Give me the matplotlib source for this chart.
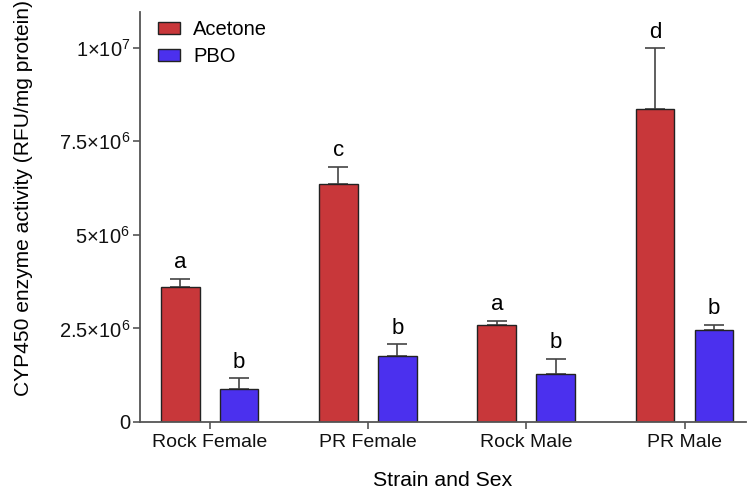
import numpy as np
import matplotlib
matplotlib.use("Agg")
import matplotlib.pyplot as plt
from matplotlib.ticker import FuncFormatter

plt.rcParams['font.family'] = ['Liberation Sans', 'DejaVu Sans']
plt.rcParams['mathtext.fontset'] = 'custom'
plt.rcParams['mathtext.rm'] = 'Liberation Sans'
plt.rcParams['mathtext.it'] = 'Liberation Sans'

categories = ["Rock Female", "PR Female", "Rock Male", "PR Male"]
acetone = [3.61e6, 6.35e6, 2.58e6, 8.36e6]
acetone_err = [0.21e6, 0.47e6, 0.13e6, 1.62e6]
pbo = [0.89e6, 1.76e6, 1.28e6, 2.45e6]
pbo_err = [0.28e6, 0.31e6, 0.40e6, 0.14e6]
acetone_letters = ["a", "c", "a", "d"]
pbo_letters = ["b", "b", "b", "b"]
yticks = [0, 2.5e6, 5e6, 7.5e6, 1e7]

red = "#C8373A"
blue = "#4B30EE"
axis_col = "#555555"

fig = plt.figure(figsize=(7.47, 4.92), dpi=100)
ax = fig.add_axes([0.1874, 0.1423, 0.8116, 0.8333])

x = np.arange(len(categories))
w = 0.245
off = 0.186

def draw(xpos, vals, errs, color, label, letters):
    ax.bar(xpos, vals, width=w, color=color, edgecolor="#222222", linewidth=1.0,
           label=label, zorder=2)
    ax.errorbar(xpos, vals, yerr=[np.zeros(len(vals)), errs], fmt="none",
                ecolor="#444444", elinewidth=1.2, capsize=7.2, capthick=1.2, zorder=1)
    for xi, v, e, t in zip(xpos, vals, errs, letters):
        ax.text(xi, v + e + 0.15e6, t, ha="center", va="bottom", fontsize=16)

draw(x - off, acetone, acetone_err, red, "Acetone", acetone_letters)
draw(x + off, pbo, pbo_err, blue, "PBO", pbo_letters)

ax.set_xlim(-0.44, 3.39)
ax.set_ylim(0, 1.095e7)
ax.set_yticks(yticks)

def fmt(v, pos):
    if v == 0:
        return "0"
    exp = int(np.floor(np.log10(v)))
    mant = v / 10 ** exp
    mant_s = ("%g" % mant)
    return r"$\mathregular{%s{\times}10^{%d}}$" % (mant_s, exp)

ax.yaxis.set_major_formatter(FuncFormatter(fmt))
ax.set_xticks(x)
ax.set_xticklabels(categories)
ax.tick_params(axis="both", labelsize=14, color=axis_col, width=1.2, length=5,
               labelcolor="#111111")
ax.tick_params(axis="y", labelsize=14.5, pad=2)
ax.tick_params(axis="x", pad=4)

for s in ["top", "right"]:
    ax.spines[s].set_visible(False)
for s in ["left", "bottom"]:
    ax.spines[s].set_color(axis_col)
    ax.spines[s].set_linewidth(1.3)

ax.set_ylabel("CYP450 enzyme activity (RFU/mg protein)", fontsize=15.1)
ax.yaxis.set_label_coords(-0.177, 0.546)
ax.set_xlabel("Strain and Sex", fontsize=15.3, labelpad=14)

ax.legend(loc="upper left", bbox_to_anchor=(0.0, 1.025), frameon=False,
          fontsize=14.5, handlelength=1.1, handleheight=0.55, handletextpad=0.65,
          labelspacing=0.4)

fig.savefig("out.png", dpi=100)
